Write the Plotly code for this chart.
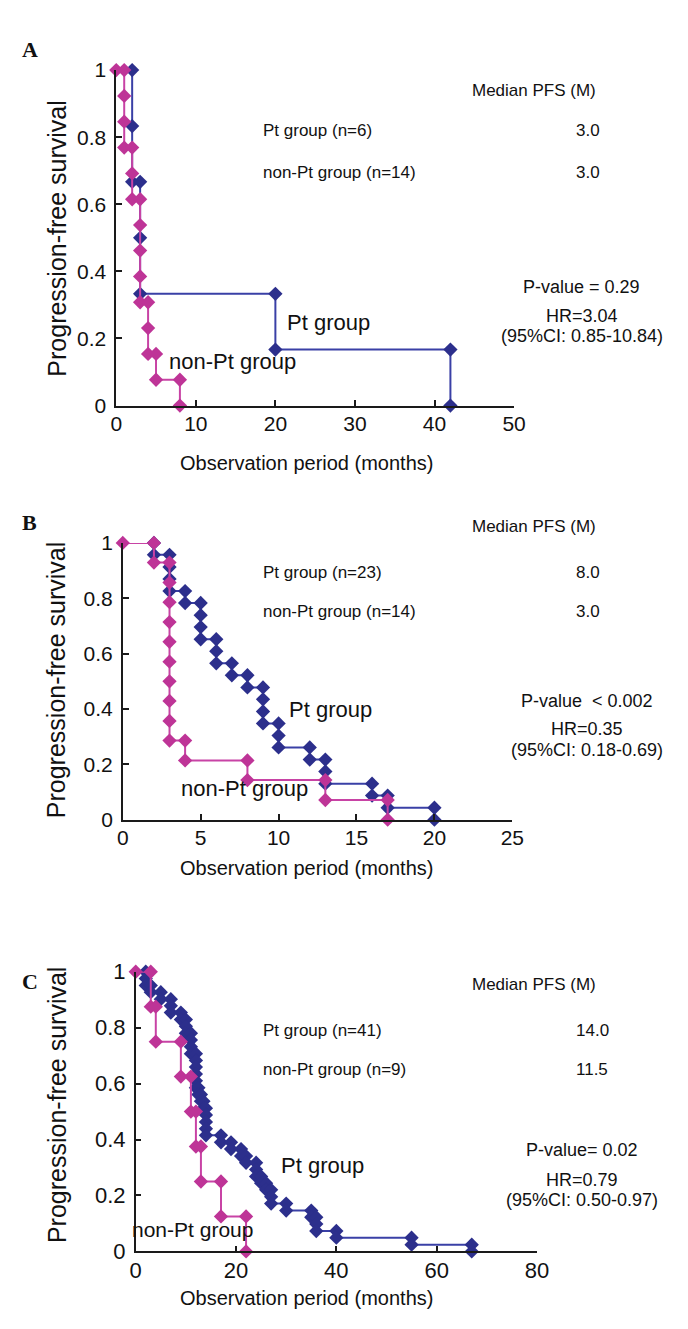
import plotly.graph_objects as go

# ---------------- DATA ----------------
# Panel A (Kaplan-Meier step vertices)
a_pt_time = [2, 2, 2, 3, 3, 3, 20, 20, 42, 42]
a_pt_surv = [1.0, 0.833, 0.667, 0.667, 0.5, 0.333, 0.333, 0.167, 0.167, 0.0]
a_non_time = [0, 1, 1, 1, 1, 2, 2, 2, 3, 3, 3, 3, 3, 4, 4, 4, 5, 5, 8, 8]
a_non_surv = [1.0, 1.0, 0.923, 0.846, 0.769, 0.769, 0.692, 0.615, 0.615, 0.538,
              0.462, 0.385, 0.308, 0.308, 0.231, 0.154, 0.154, 0.077, 0.077, 0.0]

# Panel B
b_pt_time = [2, 2, 3, 3, 3, 3, 4, 4, 5, 5, 5, 5, 6, 6, 6, 7, 7, 8, 8, 9, 9, 9, 9,
             10, 10, 10, 12, 12, 13, 13, 13, 16, 16, 17, 17, 20, 20]
b_pt_surv = [1.0, 0.957, 0.957, 0.913, 0.870, 0.826, 0.826, 0.783, 0.783, 0.739,
             0.696, 0.652, 0.652, 0.609, 0.565, 0.565, 0.522, 0.522, 0.478, 0.478,
             0.435, 0.391, 0.348, 0.348, 0.304, 0.261, 0.261, 0.217, 0.217, 0.174,
             0.130, 0.130, 0.087, 0.087, 0.043, 0.043, 0.0]
b_non_time = [0, 2, 2, 3, 3, 3, 3, 3, 3, 3, 3, 3, 3, 4, 4, 8, 8, 13, 13, 17, 17]
b_non_surv = [1.0, 1.0, 0.929, 0.929, 0.857, 0.786, 0.714, 0.643, 0.571, 0.5,
              0.429, 0.357, 0.286, 0.286, 0.214, 0.214, 0.143, 0.143, 0.071, 0.071, 0.0]

# Panel C
c_pt_time = [2, 2, 2, 3, 3, 5, 5, 7, 7, 7, 9, 9, 10, 10, 10, 11, 11, 11, 11,
             12, 12, 12, 12, 12, 12, 12.5, 12.5, 13, 13, 13.5, 13.5, 14, 14, 14, 14, 14,
             17, 17, 19, 19, 21, 21, 22, 22, 24, 24, 24, 25, 25, 26, 26, 27, 27, 27,
             30, 30, 35, 35, 36, 36, 36, 40, 40, 55, 55, 67, 67]
c_pt_surv = [1.0, 0.976, 0.951, 0.951, 0.927, 0.927, 0.902, 0.902, 0.878, 0.854,
             0.854, 0.829, 0.829, 0.805, 0.780, 0.780, 0.756, 0.732, 0.707,
             0.707, 0.683, 0.659, 0.634, 0.610, 0.585, 0.585, 0.561, 0.561, 0.537,
             0.537, 0.512, 0.512, 0.488, 0.463, 0.439, 0.415,
             0.415, 0.390, 0.390, 0.366, 0.366, 0.341, 0.341, 0.317, 0.317, 0.293,
             0.268, 0.268, 0.244, 0.244, 0.220, 0.220, 0.195, 0.171,
             0.171, 0.146, 0.146, 0.122, 0.122, 0.098, 0.073, 0.073, 0.049, 0.049,
             0.024, 0.024, 0.0]
c_non_time = [0, 3, 3, 4, 4, 9, 9, 11, 11, 12, 12, 13, 13, 17, 17, 22, 22]
c_non_surv = [1.0, 1.0, 0.875, 0.875, 0.75, 0.75, 0.625, 0.625, 0.5, 0.5, 0.375,
              0.375, 0.25, 0.25, 0.125, 0.125, 0.0]

# Axis ticks
y_tickvals = [0, 0.2, 0.4, 0.6, 0.8, 1]
y_ticktext = ["0", "0.2", "0.4", "0.6", "0.8", "1"]
a_xticks = [0, 10, 20, 30, 40, 50]
b_xticks = [0, 5, 10, 15, 20, 25]
c_xticks = [0, 20, 40, 60, 80]

# Text content
panel_letters = ["A", "B", "C"]
median_header = "Median PFS (M)"
a_groups = ["Pt group (n=6)", "non-Pt group (n=14)"]
a_medians = ["3.0", "3.0"]
b_groups = ["Pt group (n=23)", "non-Pt group (n=14)"]
b_medians = ["8.0", "3.0"]
c_groups = ["Pt group (n=41)", "non-Pt group (n=9)"]
c_medians = ["14.0", "11.5"]
a_stats = ["P-value = 0.29", "HR=3.04", "(95%CI: 0.85-10.84)"]
b_stats = ["P-value\u00a0\u00a0< 0.002", "HR=0.35", "(95%CI: 0.18-0.69)"]
c_stats = ["P-value= 0.02", "HR=0.79", "(95%CI: 0.50-0.97)"]
curve_labels = ["Pt group", "non-Pt group"]
x_title = "Observation period (months)"
y_title = "Progression-free survival"

# ---------------- STYLE / LAYOUT ----------------
W, H = 688, 1329
BLUE_M = "#2C2F8C"
BLUE_L = "#3A40A6"
MAG_M = "#BE3497"
MAG_L = "#C843A5"
FONT = "Liberation Sans, Arial, sans-serif"
AX = "#1a1a1a"


def px(x):
    return x / W


def py(y):
    return 1 - y / H


panels = [
    dict(x0=105, x1=513.5, yt=51, yb=393, xmax=50, xt=a_xticks, tf=21),
    dict(x0=111.7, x1=511.7, yt=533, yb=815, xmax=25, xt=b_xticks, tf=21),
    dict(x0=125, x1=537, yt=970, yb=1255, xmax=80, xt=c_xticks, tf=22),
]
series = [
    (a_pt_time, a_pt_surv, a_non_time, a_non_surv),
    (b_pt_time, b_pt_surv, b_non_time, b_non_surv),
    (c_pt_time, c_pt_surv, c_non_time, c_non_surv),
]

fig = go.Figure()
layout = dict(width=W, height=H, autosize=False,
              margin=dict(l=0, r=0, t=0, b=0),
              paper_bgcolor="white", plot_bgcolor="white",
              showlegend=False, font=dict(family=FONT, color="#111"))

for i, (p, s) in enumerate(zip(panels, series)):
    k = "" if i == 0 else str(i + 1)
    xa, ya = "xaxis" + k, "yaxis" + k
    layout[xa] = dict(domain=[px(p["x0"]), px(p["x1"])], range=[0, p["xmax"]],
                      tickvals=p["xt"], ticktext=[str(v) for v in p["xt"]],
                      ticks="inside", ticklen=6, tickwidth=1.5, tickcolor=AX,
                      showline=True, linecolor=AX, linewidth=1.5,
                      showgrid=False, zeroline=False, anchor="y" + k,
                      tickfont=dict(size=p["tf"], family=FONT, color="#111"),
                      ticklabelstandoff=-2)
    layout[ya] = dict(domain=[py(p["yb"]), py(p["yt"])], range=[0, 1],
                      tickvals=y_tickvals, ticktext=y_ticktext,
                      ticks="inside", ticklen=6, tickwidth=1.5, tickcolor=AX,
                      showline=True, linecolor=AX, linewidth=1.5,
                      showgrid=False, zeroline=False, anchor="x" + k,
                      tickfont=dict(size=p["tf"], family=FONT, color="#111"),
                      ticklabelstandoff=4)
    pt_t, pt_s, non_t, non_s = s
    fig.add_trace(go.Scatter(x=pt_t, y=pt_s, mode="lines+markers",
                             line=dict(color=BLUE_L, width=2),
                             marker=dict(symbol="diamond", size=11, color=BLUE_M),
                             cliponaxis=False, xaxis="x" + k, yaxis="y" + k))
    fig.add_trace(go.Scatter(x=non_t, y=non_s, mode="lines+markers",
                             line=dict(color=MAG_L, width=2),
                             marker=dict(symbol="diamond", size=11, color=MAG_M),
                             cliponaxis=False, xaxis="x" + k, yaxis="y" + k))

fig.update_layout(**layout)

ann = []


def text(x, y, t, size=17, xanchor="left", family=FONT, bold=False, angle=0):
    ann.append(dict(x=px(x), y=py(y), xref="paper", yref="paper", text=("<b>%s</b>" % t) if bold else t,
                    showarrow=False, xanchor=xanchor, yanchor="middle", textangle=angle,
                    font=dict(size=size, family=family, color="#111")))


text_pos = [
    dict(letter=(6, 30), head=72, rows=(113, 155), stats=(583, 272, 302, 322),
         pt_lab=(323, 308), non_lab=(224, 348), xt=451, yt=(44, 222)),
    dict(letter=(6, 512), head=516, rows=(563, 603), stats=(588, 694, 723, 744),
         pt_lab=(325, 703), non_lab=(237, 783), xt=864, yt=(44, 672)),
    dict(letter=(6, 980), head=983, rows=(1030, 1070), stats=(583, 1152, 1182, 1203),
         pt_lab=(317, 1167), non_lab=(183, 1233), xt=1303, yt=(44, 1105)),
]
groups = [(a_groups, a_medians, a_stats), (b_groups, b_medians, b_stats), (c_groups, c_medians, c_stats)]

for i, (tp, (g, m, st)) in enumerate(zip(text_pos, groups)):
    text(tp["letter"][0], tp["letter"][1], panel_letters[i], size=22,
         family="Liberation Serif, Times New Roman, serif", bold=True)
    text(468, tp["head"], median_header, size=17)
    text(254, tp["rows"][0], g[0], size=17)
    text(254, tp["rows"][1], g[1], size=17)
    text(575, tp["rows"][0], m[0], size=17)
    text(575, tp["rows"][1], m[1], size=17)
    sx = tp["stats"][0]
    text(sx, tp["stats"][1], st[0], size=18, xanchor="center")
    text(sx, tp["stats"][2], st[1], size=18, xanchor="center")
    text(sx, tp["stats"][3], st[2], size=18, xanchor="center")
    text(tp["pt_lab"][0], tp["pt_lab"][1], curve_labels[0], size=22, xanchor="center")
    text(tp["non_lab"][0], tp["non_lab"][1], curve_labels[1], size=22 if i < 2 else 21, xanchor="center")
    text(300, tp["xt"], x_title, size=20, xanchor="center")
    text(tp["yt"][0], tp["yt"][1], y_title, size=25, xanchor="center", angle=-90)

fig.update_layout(annotations=ann)
fig.write_html("out.html")
